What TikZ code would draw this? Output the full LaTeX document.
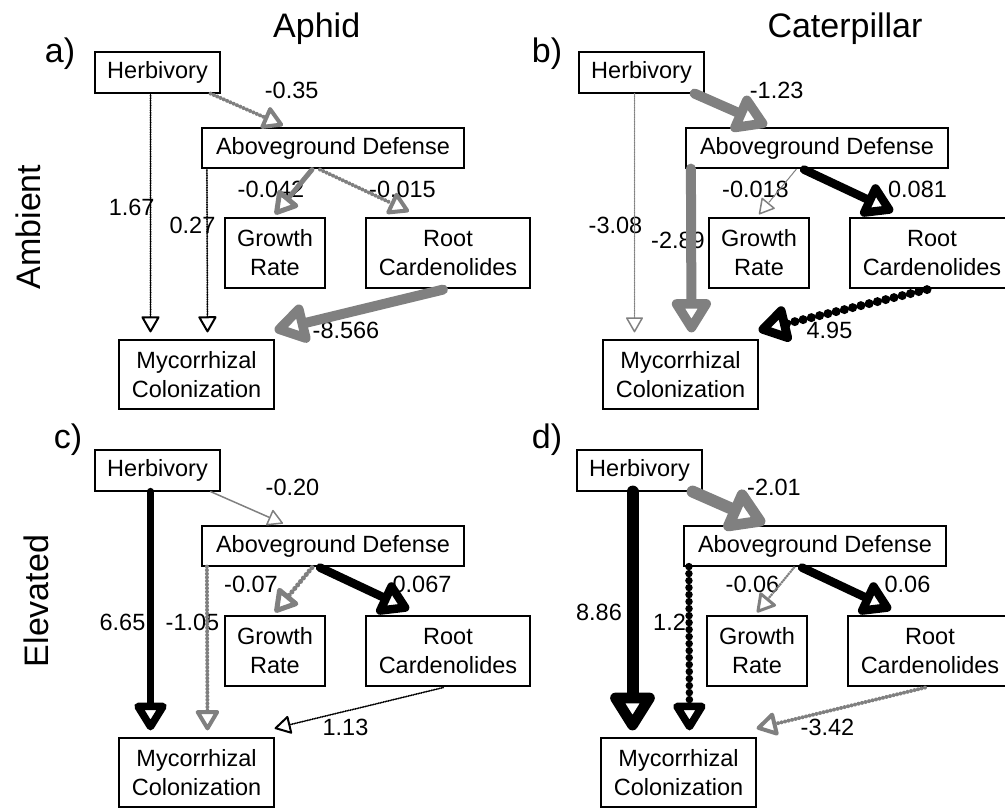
\documentclass[tikz,border=0pt]{standalone}
\usepackage{fontspec}
\setmainfont{Liberation Sans}
\usetikzlibrary{arrows.meta,calc}
\definecolor{effgray}{RGB}{128,128,128}
\tikzset{
    box/.style = {draw, line width=1.2pt, inner sep=0pt, align=center,
        font=\fontsize{23.5}{29}\selectfont},
    coef/.style = {inner sep=0pt, anchor=base, font=\fontsize{23.5}{28}\selectfont},
    heading/.style = {inner sep=0pt, anchor=base, font=\fontsize{34}{40}\selectfont},
    eff/.style = {line cap=round, -{Triangle[round,fill=white,length=12pt 2.6,width=13pt 3.1]}},
    poseff/.style = {eff, draw=black},
    negeff/.style = {eff, draw=effgray},
    nonsig/.style = {dash pattern=on 0pt off #1}
}

\begin{document}
\begin{tikzpicture}[x=1pt,y=-1pt]
    \useasboundingbox (0,0) rectangle (1005,808);
    % headings
    \node[heading] (aphid) at (316.7,38) {Aphid};
    \node[heading] (caterpillar) at (845,38) {Caterpillar};
    \node[heading,rotate=90] (ambient) at (40,227) {Ambient};
    \node[heading,rotate=90] (elevated) at (48,601) {Elevated};
    \node[heading] (tag-a) at (60,63) {a)};
    \node[heading] (tag-b) at (547,63) {b)};
    \node[heading] (tag-c) at (68,448) {c)};
    \node[heading] (tag-d) at (547,448) {d)};
    % the five boxes of every panel
    \foreach \p/\dx/\dy in {a/0/0,b/484/0,c/0/398,d/482/398}{
        \begin{scope}[shift={(\dx,\dy)}]
            \node[box,minimum width=125pt,minimum height=41pt] (\p-herb) at (157.5,72.5) {Herbivory};
            \node[box,minimum width=262pt,minimum height=40pt] (\p-above) at (333,148) {Aboveground Defense};
            \node[box,minimum width=100pt,minimum height=70pt] (\p-growth) at (275,253) {Growth\\Rate};
            \node[box,minimum width=164pt,minimum height=70pt] (\p-root) at (448,253) {Root\\Cardenolides};
            \node[box,minimum width=155pt,minimum height=69pt] (\p-myc) at (196.5,374.5) {Mycorrhizal\\Colonization};
        \end{scope}
    }
    % path coefficients
    \node[coef] at (291.7,98.3) {-0.35};
    \node[coef] at (131.7,215) {1.67};
    \node[coef] at (192.5,233) {0.27};
    \node[coef] at (271,197) {-0.042};
    \node[coef] at (402.5,197) {-0.015};
    \node[coef] at (346,338) {-8.566};
    \node[coef] at (776.7,98.3) {-1.23};
    \node[coef] at (615.5,233) {-3.08};
    \node[coef] at (678,248) {-2.89};
    \node[coef] at (755.5,197) {-0.018};
    \node[coef] at (917.5,197) {0.081};
    \node[coef] at (829.5,338) {4.95};
    \node[coef] at (292.5,495) {-0.20};
    \node[coef] at (122.5,630) {6.65};
    \node[coef] at (192.5,630) {-1.05};
    \node[coef] at (251,592.7) {-0.07};
    \node[coef] at (422,592.7) {0.067};
    \node[coef] at (345.5,735) {1.13};
    \node[coef] at (774,495) {-2.01};
    \node[coef] at (599,620) {8.86};
    \node[coef,anchor=base west] at (653,630) {1.2};
    \node[coef] at (752.5,592.7) {-0.06};
    \node[coef] at (907.5,592.7) {0.06};
    \node[coef] at (827.5,735) {-3.42};
    % a) aphid, ambient
    \draw[poseff,line width=2pt,nonsig=1.7pt] ($(a-herb.south)+(-7,0)$) -- ($(a-myc.north)+(-46,-7)$);
    \draw[poseff,line width=2pt,nonsig=1.7pt] ($(a-above.south west)+(5.5,0)$) -- ($(a-myc.north)+(11,-7)$);
    \draw[negeff,line width=4pt,nonsig=3.6pt] ($(a-herb.south east)+(-10,0)$) -- ($(a-above.north)+(-50,-2)$);
    \draw[negeff,line width=5pt] ($(a-above.south)+(-21,1)$) -- ($(a-growth.north)+(0,-3)$);
    \draw[negeff,line width=4pt,nonsig=3.6pt] ($(a-above.south)+(-13,1)$) -- ($(a-root.north)+(-39,-6)$);
    \draw[negeff,line width=10pt] ($(a-root.south)+(-5,1)$) -- ($(a-myc.north east)+(0,-9)$);
    % b) caterpillar, ambient
    \draw[negeff,line width=1.5pt,nonsig=1.4pt] ($(b-herb.south)+(-7,0)$) -- ($(b-myc.north)+(-46,-7)$);
    \draw[negeff,line width=10pt] ($(b-above.south west)+(5.5,0)$) -- ($(b-myc.north)+(11,-7)$);
    \draw[negeff,line width=10pt] ($(b-herb.south east)+(-10,0)$) -- ($(b-above.north)+(-50,-2)$);
    \draw[negeff,line width=1.5pt,nonsig=1.4pt] ($(b-above.south)+(-21,1)$) -- ($(b-growth.north)+(0,-3)$);
    \draw[poseff,line width=8.5pt] ($(b-above.south)+(-13,1)$) -- ($(b-root.north)+(-39,-6)$);
    \draw[poseff,line width=9pt,nonsig=8.5pt] ($(b-root.south)+(-5,1)$) -- ($(b-myc.north east)+(0,-9)$);
    % c) aphid, elevated
    \draw[poseff,line width=7.5pt] ($(c-herb.south)+(-7,0)$) -- ($(c-myc.north)+(-46,-7)$);
    \draw[negeff,line width=4pt,nonsig=3.6pt] ($(c-above.south west)+(5.5,0)$) -- ($(c-myc.north)+(11,-7)$);
    \draw[negeff,line width=1.5pt] ($(c-herb.south east)+(-10,0)$) -- ($(c-above.north)+(-50,-2)$);
    \draw[negeff,line width=5pt,nonsig=4.5pt] ($(c-above.south)+(-21,1)$) -- ($(c-growth.north)+(0,-3)$);
    \draw[poseff,line width=8.5pt] ($(c-above.south)+(-13,1)$) -- ($(c-root.north)+(-39,-6)$);
    \draw[poseff,line width=2pt,nonsig=1.7pt] ($(c-root.south)+(-5,1)$) -- ($(c-myc.north east)+(0,-9)$);
    % d) caterpillar, elevated
    \draw[poseff,line width=12pt] ($(d-herb.south)+(-7,0)$) -- ($(d-myc.north)+(-46,-7)$);
    \draw[poseff,line width=7.5pt,nonsig=7pt] ($(d-above.south west)+(5.5,0)$) -- ($(d-myc.north)+(11,-7)$);
    \draw[negeff,line width=12pt] ($(d-herb.south east)+(-10,0)$) -- ($(d-above.north)+(-50,-2)$);
    \draw[negeff,line width=3pt,nonsig=2.7pt] ($(d-above.south)+(-21,1)$) -- ($(d-growth.north)+(0,-3)$);
    \draw[poseff,line width=8.5pt] ($(d-above.south)+(-13,1)$) -- ($(d-root.north)+(-39,-6)$);
    \draw[negeff,line width=4pt,nonsig=3.6pt] ($(d-root.south)+(-5,1)$) -- ($(d-myc.north east)+(0,-9)$);
\end{tikzpicture}
\end{document}
